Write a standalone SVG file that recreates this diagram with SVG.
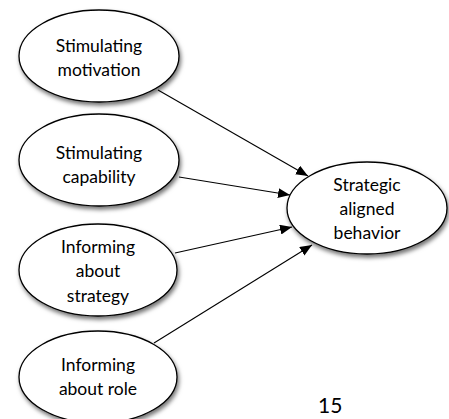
<svg xmlns="http://www.w3.org/2000/svg" width="449" height="419" viewBox="0 0 449 419">
  <style>
    .node ellipse { fill: #ffffff; stroke: #000000; stroke-width: 1.3; filter: url(#shadow); }
    .node text { font-family: Lato, "Open Sans", "Liberation Sans", sans-serif; font-size: 17.5px; fill: #000000; text-anchor: middle; }
    .edges line { stroke: #000000; stroke-width: 1.1; marker-end: url(#arrow); }
    .page { font-family: Lato, "Open Sans", "Liberation Sans", sans-serif; font-size: 21px; fill: #000000; }
  </style>
  <defs>
    <filter id="shadow" x="-20%" y="-20%" width="150%" height="160%">
      <feDropShadow dx="1.5" dy="3" stdDeviation="2" flood-color="#000000" flood-opacity="0.55"/>
    </filter>
    <marker id="arrow" viewBox="0 0 12 10" refX="12" refY="5" markerWidth="12" markerHeight="10" markerUnits="userSpaceOnUse" orient="auto">
      <path d="M0,0 L12,5 L0,10 Z" fill="#000000"/>
    </marker>
  </defs>

  <rect width="449" height="419" fill="#ffffff"/>

  <g class="edges">
    <line x1="158" y1="90" x2="308" y2="176"/>
    <line x1="179" y1="177" x2="290" y2="195"/>
    <line x1="175" y1="253" x2="292" y2="227"/>
    <line x1="154" y1="343" x2="312" y2="245"/>
  </g>

  <g class="node" id="motivation">
    <ellipse cx="99" cy="56" rx="80" ry="46"/>
    <text x="99" y="52">Stimulating</text>
    <text x="99" y="76">motivation</text>
  </g>

  <g class="node" id="capability">
    <ellipse cx="99" cy="160" rx="80" ry="46"/>
    <text x="99" y="159">Stimulating</text>
    <text x="99" y="183">capability</text>
  </g>

  <g class="node" id="strategy">
    <ellipse cx="98" cy="270" rx="79" ry="46"/>
    <text x="98" y="253">Informing</text>
    <text x="98" y="277">about</text>
    <text x="98" y="302">strategy</text>
  </g>

  <g class="node" id="role">
    <ellipse cx="98" cy="377" rx="79" ry="46"/>
    <text x="98" y="371">Informing</text>
    <text x="98" y="395">about role</text>
  </g>

  <g class="node" id="behavior">
    <ellipse cx="367" cy="208" rx="80" ry="46"/>
    <text x="367" y="191">Strategic</text>
    <text x="367" y="215">aligned</text>
    <text x="367" y="239">behavior</text>
  </g>

  <text class="page" x="318" y="413">15</text>
</svg>
